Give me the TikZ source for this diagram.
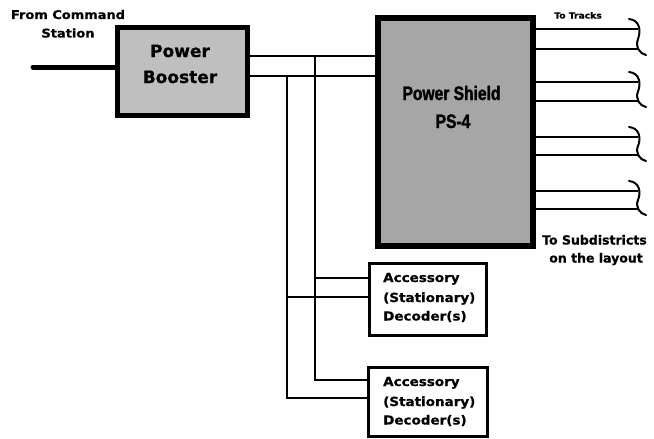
\documentclass[tikz,border=0pt]{standalone}
\usepackage{fontspec}
\setmainfont{DejaVu Sans}
\newfontfamily\widefont[FakeStretch=1.08,FakeBold=0.8]{DejaVu Sans Bold}
\newfontfamily\plainbold[FakeBold=0.8]{DejaVu Sans Bold}
\newfontfamily\narrowfont[FakeStretch=0.8,FakeBold=1.6]{Liberation Sans Bold}
\begin{document}
\begin{tikzpicture}[x=1pt,y=-1pt,
  boosterbox/.style={draw, line width=5pt, fill=black!25, minimum width=130pt, minimum height=88pt, inner sep=0pt},
  shieldbox/.style={draw, line width=6pt, fill=black!35, minimum width=155pt, minimum height=228pt, inner sep=0pt},
  accbox/.style={draw, line width=2.5pt, fill=white, inner sep=0pt},
  wire/.style={line width=2.5pt},
  txt/.style={anchor=base, inner sep=0pt},
  acctxt/.style={anchor=base west, inner sep=0pt, font=\fontsize{12.5}{15}\widefont}]
\useasboundingbox (0,0) rectangle (654,439);
% boxes
\node[boosterbox] (booster) at (182.5,71.5) {};
\node[shieldbox] (shield) at (455.5,132) {};
\node[accbox, minimum width=117pt, minimum height=72pt] (acc1) at (428,299.5) {};
\node[accbox, minimum width=119pt, minimum height=69pt] (acc2) at (428,402) {};
% texts
\node[txt, font=\fontsize{17}{20}\plainbold] (bt1) at (180,57) {Power};
\node[txt, font=\fontsize{17}{20}\plainbold] (bt2) at (180,83) {Booster};
\node[txt, font=\fontsize{19.5}{22}\narrowfont] (st1) at (451.5,100) {Power Shield};
\node[txt, font=\fontsize{19.5}{22}\narrowfont] (st2) at (453,128) {PS-4};
\node[acctxt] (a1) at (383,282) {Accessory};
\node[acctxt] (a2) at (383,302) {(Stationary)};
\node[acctxt] (a3) at (383,320.5) {Decoder(s)};
\node[acctxt] (b1) at (383,386) {Accessory};
\node[acctxt] (b2) at (383,406) {(Stationary)};
\node[acctxt] (b3) at (383,424.5) {Decoder(s)};
\node[txt, font=\fontsize{12}{14}\widefont] (from1) at (68,19) {From Command};
\node[txt, font=\fontsize{12}{14}\widefont] (from2) at (68,37.5) {Station};
\node[txt, font=\fontsize{8.5}{10}\widefont] (tracks) at (578,18.5) {To Tracks};
\node[txt, anchor=base west, font=\fontsize{12.5}{14}\plainbold] (subd1) at (542,244.5) {To Subdistricts};
\node[txt, font=\fontsize{12.5}{14}\plainbold] (subd2) at (596,262.5) {on the layout};
% input
\coordinate (in) at (33,67);
\draw[line width=5pt, line cap=round] (in) -- (booster.west |- in);
% booster outputs
\coordinate (ya) at (0,56);
\coordinate (yb) at (0,76);
\draw[wire] (booster.east |- ya) -- (shield.west |- ya);
\draw[wire] (booster.east |- yb) -- (shield.west |- yb);
% vertical buses
\coordinate (xa) at (315,0);
\coordinate (xb) at (287,0);
\draw[wire] (xa |- ya) -- (xa |- 0,380) -- (acc2.west |- 0,380);
\draw[wire] (xb |- yb) -- (xb |- 0,398) -- (acc2.west |- 0,398);
\draw[wire] (xa |- 0,278) -- (acc1.west |- 0,278);
\draw[wire] (xb |- 0,297) -- (acc1.west |- 0,297);
% tracks
\foreach \ya/\yb [count=\i] in {29/49, 82/101, 137/155, 191/209} {
  \coordinate (end\i) at (638,0);
  \draw[wire] (shield.east |- 0,\ya) -- (end\i |- 0,\ya);
  \draw[wire] (shield.east |- 0,\yb) -- (end\i |- 0,\yb);
  \draw[line width=2pt, line cap=round] (629,\ya-10) .. controls (640,\ya-9) and (641,\ya+2) .. (638,{(\ya+\yb)/2})
     .. controls (635,\yb-2) and (640,\yb+5) .. (646,\yb+6);
}
\end{tikzpicture}
\end{document}
